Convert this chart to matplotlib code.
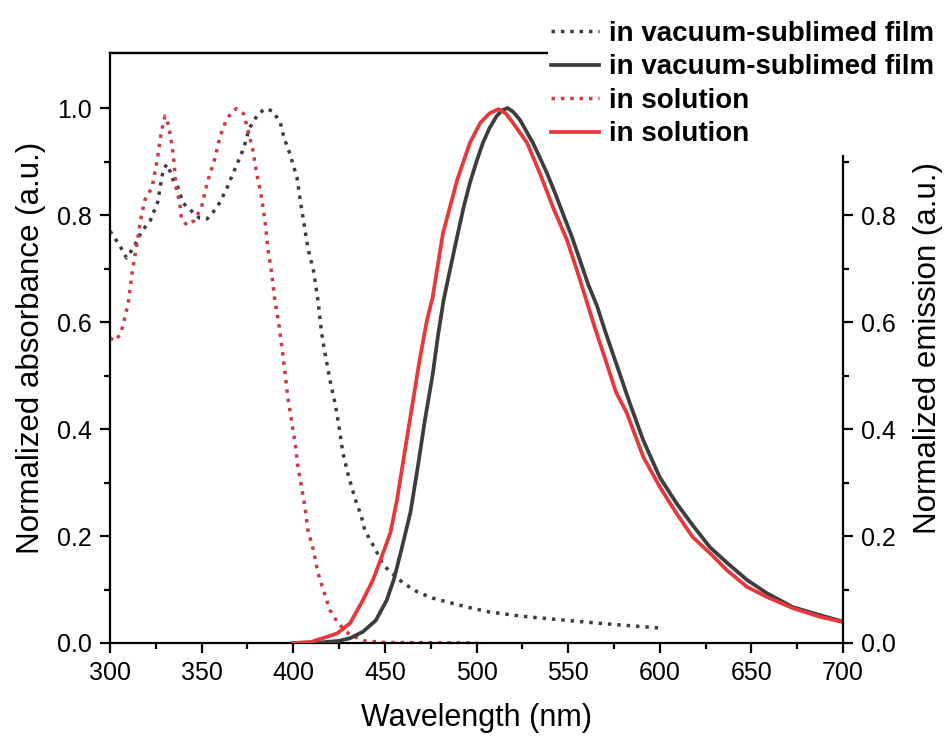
import matplotlib
matplotlib.use("Agg")
import matplotlib.pyplot as plt
import numpy as np

plt.rcParams['font.family'] = ['Liberation Sans', 'DejaVu Sans']

# 吸收光谱：真空蒸镀薄膜（黑色虚线）
film_abs_x = [300, 302, 305, 309, 313, 317, 322, 326, 329, 331, 333, 335, 337, 340,
              345, 349, 353, 356, 360, 364, 369, 373, 376, 381, 385, 389, 393, 395,
              398, 402, 404, 406, 408, 411, 413.5, 415.5, 417, 420, 423, 425, 427,
              430, 434, 437, 439, 445, 449, 455, 460, 468, 476, 486, 495, 507, 525,
              547, 570, 600]
film_abs_y = [0.77, 0.76, 0.745, 0.72, 0.74, 0.768, 0.79, 0.824, 0.884, 0.895, 0.88,
              0.86, 0.852, 0.822, 0.806, 0.794, 0.793, 0.804, 0.824, 0.852, 0.893,
              0.925, 0.962, 0.99, 0.999, 0.994, 0.972, 0.944, 0.916, 0.871, 0.824,
              0.781, 0.738, 0.697, 0.64, 0.579, 0.548, 0.492, 0.445, 0.404, 0.357,
              0.314, 0.267, 0.239, 0.211, 0.174, 0.146, 0.127, 0.112, 0.095, 0.084,
              0.075, 0.067, 0.058, 0.050, 0.043, 0.036, 0.028]

# 吸收光谱：溶液（红色虚线）
sol_abs_x = [300, 303, 306, 308, 310, 312, 315, 317, 319, 323, 326, 328, 330, 332,
             334, 335, 336, 338, 339, 342, 346, 350, 353, 357, 360, 363, 366.5, 369,
             373, 375, 378, 380, 382, 383.5, 385, 386, 388, 390, 392, 394, 395.5,
             397, 399, 401, 402.6, 404.8, 406.4, 408, 411, 413.5, 417, 420, 424.4,
             431, 439, 450, 500]
sol_abs_y = [0.57, 0.565, 0.58, 0.607, 0.636, 0.69, 0.753, 0.796, 0.828, 0.852, 0.908,
             0.955, 0.985, 0.968, 0.927, 0.897, 0.852, 0.824, 0.794, 0.781, 0.79,
             0.815, 0.86, 0.903, 0.946, 0.974, 0.993, 0.999, 0.989, 0.963, 0.921,
             0.878, 0.847, 0.815, 0.778, 0.74, 0.697, 0.64, 0.6, 0.548, 0.505, 0.46,
             0.417, 0.374, 0.329, 0.286, 0.254, 0.211, 0.174, 0.131, 0.093, 0.062,
             0.037, 0.015, 0.004, 0.001, 0.0]

# 发射光谱：真空蒸镀薄膜（黑色实线）
film_em_x = [400, 415, 425, 431, 438, 445, 451, 455, 459, 464, 468, 472, 476, 479,
             482, 486, 489.4, 493, 496.4, 500, 503.5, 507, 511, 514, 517, 520, 523.7,
             527, 530.8, 534.5, 538.5, 543, 547, 552, 556, 561, 565.8, 570, 575, 580,
             584, 591, 600, 609, 618, 627.4, 636.7, 647.6, 658.5, 672.7, 687.5, 700]
film_em_y = [0.0, 0.001, 0.004, 0.009, 0.021, 0.042, 0.08, 0.12, 0.174, 0.245, 0.33,
             0.42, 0.50, 0.575, 0.64, 0.705, 0.759, 0.815, 0.86, 0.90, 0.935, 0.962,
             0.985, 0.996, 1.0, 0.993, 0.978, 0.958, 0.935, 0.908, 0.878, 0.84, 0.804,
             0.76, 0.72, 0.67, 0.63, 0.585, 0.535, 0.485, 0.445, 0.379, 0.31, 0.262,
             0.22, 0.179, 0.15, 0.118, 0.093, 0.067, 0.052, 0.04]

# 发射光谱：溶液（红色实线）
sol_em_x = [400, 410, 413, 418, 424, 431, 438, 443.5, 449, 453, 456.6, 461, 465.4,
            469, 473, 476, 481.7, 489.4, 496.4, 502, 507, 512, 516, 520, 527.6, 534.6,
            541.7, 549.4, 555, 560, 565, 571, 576, 582, 591, 600, 609, 618, 627.4,
            636.7, 647.6, 658.5, 672.7, 687.5, 700]
sol_em_y = [0.0, 0.002, 0.006, 0.011, 0.018, 0.037, 0.08, 0.118, 0.168, 0.206, 0.267,
            0.361, 0.454, 0.53, 0.604, 0.645, 0.766, 0.865, 0.935, 0.972, 0.99, 0.998,
            0.99, 0.972, 0.935, 0.878, 0.815, 0.753, 0.695, 0.64, 0.585, 0.523, 0.47,
            0.43, 0.348, 0.292, 0.243, 0.198, 0.168, 0.136, 0.105, 0.086, 0.065,
            0.049, 0.039]

labels = ['in vacuum-sublimed film', 'in vacuum-sublimed film',
          'in solution', 'in solution']

dark = '#3d3d3d'
red_solid = '#e8383b'
red_dot = '#cc3a44'

fig = plt.figure(figsize=(9.45, 7.37), dpi=100)
ax = fig.add_axes([110 / 945, 94 / 737, 733 / 945, 590 / 737])
ax2 = ax.twinx()

l1, = ax.plot(film_abs_x, film_abs_y, color=dark, lw=2.5, linestyle=(0, (1, 1.7)))
l3, = ax.plot(sol_abs_x, sol_abs_y, color=red_dot, lw=2.5, linestyle=(0, (1, 1.7)))
l2, = ax2.plot(film_em_x, film_em_y, color=dark, lw=2.7)
l4, = ax2.plot(sol_em_x, sol_em_y, color=red_solid, lw=2.7)

ax.set_xlim(300, 700)
ax.set_ylim(0, 1.103)
ax2.set_ylim(0, 1.103)

ax.set_xticks(np.arange(300, 701, 50))
ax.set_xticks(np.arange(325, 700, 50), minor=True)
ax.set_yticks([0.0, 0.2, 0.4, 0.6, 0.8, 1.0])
ax.set_yticks([0.1, 0.3, 0.5, 0.7, 0.9], minor=True)
ax2.set_yticks([0.0, 0.2, 0.4, 0.6, 0.8])
ax2.set_yticks([0.1, 0.3, 0.5, 0.7, 0.9], minor=True)
ax.set_yticklabels(['0.0', '0.2', '0.4', '0.6', '0.8', '1.0'])
ax2.set_yticklabels(['0.0', '0.2', '0.4', '0.6', '0.8'])

for a in (ax, ax2):
    for s in a.spines.values():
        s.set_linewidth(1.6)
    a.tick_params(which='major', length=7, width=1.6, labelsize=18, pad=6)
    a.tick_params(which='minor', length=4, width=1.6)
ax.spines['right'].set_visible(False)
ax2.spines['left'].set_visible(False)
ax2.spines['bottom'].set_visible(False)
ax2.spines['right'].set_bounds(0, 0.91)
ax.tick_params(top=False, right=False)

ax.set_xlabel('Wavelength (nm)', fontsize=22, labelpad=13)
ax.set_ylabel('Normalized absorbance (a.u.)', fontsize=22.5, labelpad=8)
ax2.set_ylabel('Normalized emission (a.u.)', fontsize=22.5, labelpad=12)

leg = fig.legend([l1, l2, l3, l4], labels, loc='upper left',
                 bbox_to_anchor=(548 / 945, 1 - 18 / 737),
                 prop={'weight': 'bold', 'size': 20}, frameon=True,
                 handlelength=1.75, handletextpad=0.35, labelspacing=0.27,
                 borderpad=0.1, borderaxespad=0)
leg.get_frame().set_facecolor('white')
leg.get_frame().set_edgecolor('none')
leg.get_frame().set_alpha(1)

fig.savefig('out.png', dpi=100)
